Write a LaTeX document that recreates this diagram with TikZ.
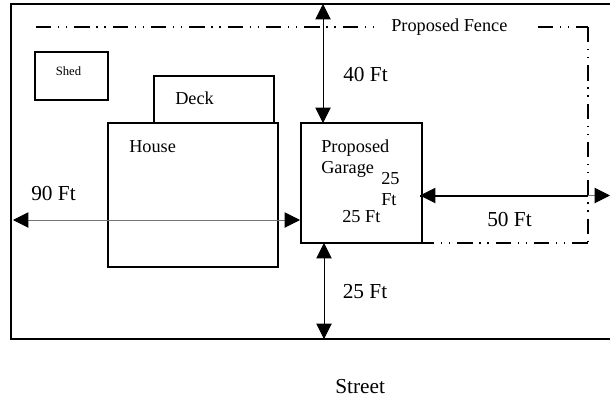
\documentclass[tikz,border=0pt]{standalone}
\usepackage{fontspec}
\setmainfont{Liberation Serif}
\usetikzlibrary{arrows.meta}
\tikzset{
  x=0.75pt,y=-0.75pt,
  box/.style={draw=black,line width=1.5pt},
  room/.style={box,inner sep=0pt,outer sep=0pt,anchor=north west},
  lbl/.style={inner sep=0pt,anchor=base west,font=\fontsize{13.7}{14}\selectfont},
  biglbl/.style={lbl,font=\fontsize{16}{18}\selectfont},
  dim/.style={line width=0.75pt,{Triangle[length=11.5pt,width=11.5pt,color=black,fill=black]}-{Triangle[length=11.5pt,width=11.5pt,color=black,fill=black]}},
  greydim/.style={dim,draw=black!55},
  heavy/.style={line width=1.5pt,draw=black},
  fence/.style={line width=1.1pt,dash pattern=on 11.5pt off 5pt on 1pt off 5pt on 1pt off 5.25pt},
}
\begin{document}
\begin{tikzpicture}
\useasboundingbox (0,0) rectangle (610,400);
\clip (0,0) rectangle (610,400);
\draw[box] (612,4) -- (11,4) -- (11,339) -- (612,339);
\coordinate (f1) at (36,27); \coordinate (f2) at (373,27);
\coordinate (f3) at (538,27); \coordinate (f4) at (588,27);
\coordinate (f5) at (588,243); \coordinate (f6) at (419,243);
\draw[fence] (f1) -- (f2);
\draw[fence] (f3) -- (f4);
\draw[fence] (f4) -- (f5);
\draw[fence] (f6) -- (f5);
\node[room,minimum width=54.75pt,minimum height=36pt] (shed) at (35,52) {};
\node[room,minimum width=90pt,minimum height=35.25pt] (deck) at (154,76) {};
\node[room,minimum width=127.5pt,minimum height=108pt] (house) at (108,123) {};
\node[room,minimum width=90.75pt,minimum height=90pt] (garage) at (300.5,123) {};
\coordinate (top) at (323,4); \coordinate (gt) at (323,123);
\coordinate (gb) at (324,243); \coordinate (st) at (324,339);
\coordinate (l) at (13,220); \coordinate (gl) at (300,220);
\coordinate (gr) at (420,195.5); \coordinate (r) at (610,195.5);
\coordinate (fx) at (588,195.5);
\draw[dim] (top) -- (gt);
\draw[dim] (gb) -- (st);
\draw[greydim] (l) -- (gl);
\draw[greydim] (gr) -- (r);
\draw[heavy] (gr) -- (fx);
\node[lbl] (t1) at (391,31) {Proposed Fence};
\node[lbl,font=\fontsize{9.5}{11}\selectfont] (t2) at (55.5,75) {Shed};
\node[lbl] (t3) at (175,104) {Deck};
\node[lbl] (t4) at (129,152) {House};
\node[biglbl] (t5) at (31,200) {90 Ft};
\node[biglbl] (t6) at (343,81) {40 Ft};
\node[lbl] (t7) at (321,152) {Proposed};
\node[lbl] (t8) at (321,173) {Garage};
\node[lbl] (t9) at (381,184) {25};
\node[lbl] (t10) at (381,205) {Ft};
\node[lbl] (t11) at (342,222) {25 Ft};
\node[biglbl] (t12) at (487,226) {50 Ft};
\node[biglbl] (t13) at (342.5,298) {25 Ft};
\node[biglbl] (t14) at (335,393) {Street};
\end{tikzpicture}
\end{document}
